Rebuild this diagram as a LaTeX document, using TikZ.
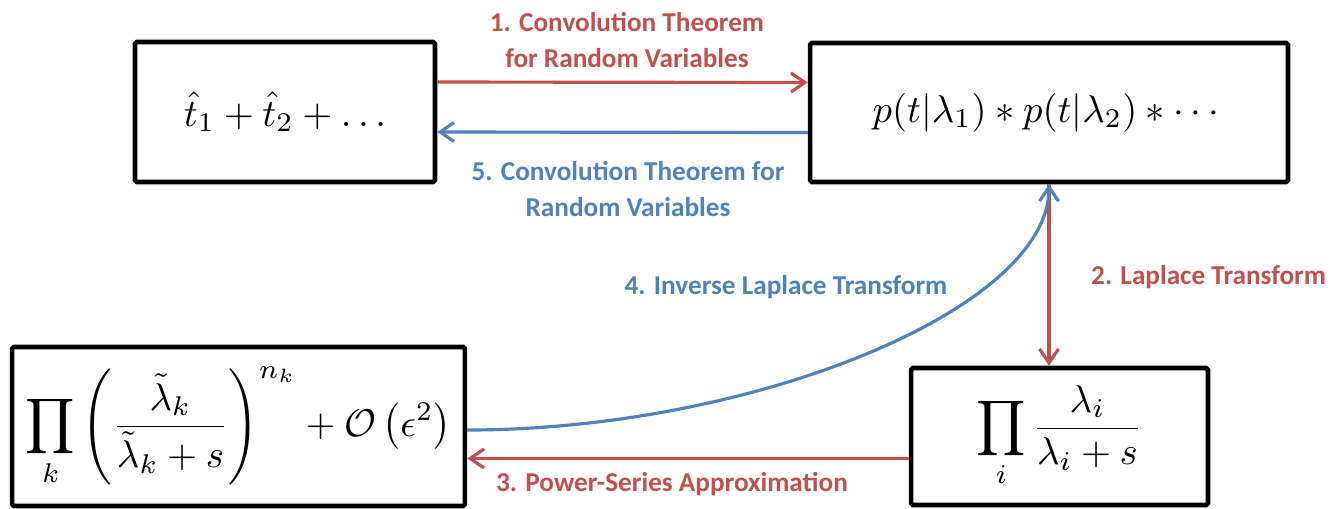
\documentclass[tikz,border=0pt]{standalone}
\usepackage{amsmath,amssymb}
\usepackage{fontspec}
\newfontfamily\labelfont{Carlito}
\usepackage{xcolor}
\usepackage{tikz}
\usetikzlibrary{arrows.meta,positioning,calc}
\definecolor{stepred}{RGB}{192,80,77}
\definecolor{stepblue}{RGB}{79,129,189}

\begin{document}
\begin{tikzpicture}[x=0.02cm,y=-0.02cm,
    mathbox/.style={draw,line width=2.6pt,rounded corners=1pt,inner sep=0pt},
    redarrow/.style={stepred,line width=1.8pt,-{Straight Barb[length=2.8mm,width=3.8mm]}},
    bluearrow/.style={stepblue,line width=1.8pt,-{Straight Barb[length=2.8mm,width=3.8mm]}},
    steplabel/.style={font=\labelfont\bfseries\fontsize{15.5}{20}\selectfont,align=center}]
\useasboundingbox (0,0) rectangle (1335,508);

\node[mathbox,minimum width=6cm,minimum height=2.8cm] (sum) at (285,112)
    {\scalebox{2.2}{$\hat{t}_1+\hat{t}_2+\ldots$}};
\node[mathbox,minimum width=9.56cm,minimum height=2.78cm] (conv) at (1049,112.5)
    {\scalebox{2.2}{$p(t|\lambda_1)*p(t|\lambda_2)*\cdots$}};
\node[mathbox,minimum width=9.06cm,minimum height=3.18cm] (approx) at (238.5,426.5)
    {\scalebox{2.2}{$\displaystyle\prod_k\left(\frac{\tilde{\lambda}_k}{\tilde{\lambda}_k+s}\right)^{n_k}+\mathcal{O}\left(\epsilon^2\right)$}};
\node[mathbox,minimum width=5.94cm,minimum height=2.74cm] (lapl) at (1059.5,436.5)
    {\scalebox{2.2}{$\displaystyle\prod_i\frac{\lambda_i}{\lambda_i+s}$}};

\draw[redarrow] ([yshift=0.6cm]sum.east) -- ([yshift=0.6cm]conv.west);
\draw[bluearrow] ([yshift=-0.4cm]conv.west) -- ([yshift=-0.4cm]sum.east);
\draw[redarrow] (conv.south) -- (conv.south |- lapl.north);
\draw[redarrow] ([yshift=-0.44cm]lapl.west) -- ([yshift=-0.44cm]lapl.west -| approx.east);
\draw[bluearrow]
    ([yshift=-0.07cm]approx.east) .. controls +(285,0) and +(0,125) .. (conv.south);

\node[steplabel,text=stepred] (lab1) at (627,40) {1. Convolution Theorem\\for Random Variables};
\node[steplabel,text=stepblue] (lab5) at (628,189) {5. Convolution Theorem for\\Random Variables};
\node[steplabel,text=stepred,anchor=west] (lab2) at (1085,277) {2. Laplace Transform};
\node[steplabel,text=stepblue] (lab4) at (786,287) {4. Inverse Laplace Transform};
\node[steplabel,text=stepred] (lab3) at (672,484) {3. Power-Series Approximation};
\end{tikzpicture}
\end{document}
